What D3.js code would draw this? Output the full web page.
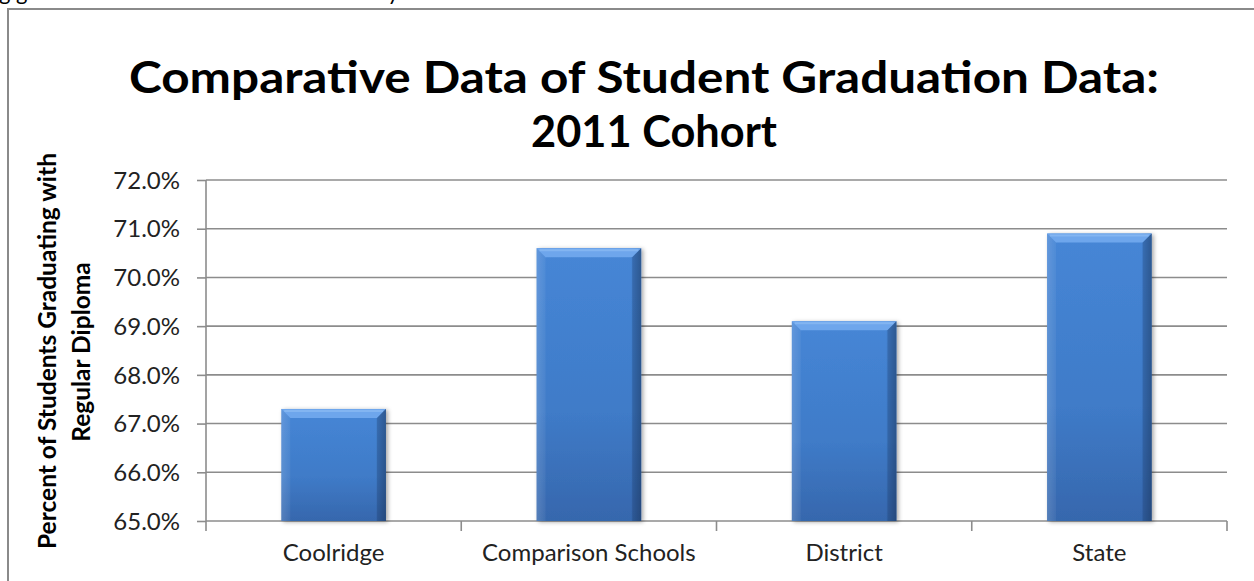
<!DOCTYPE html>
<html>
<head>
<meta charset="utf-8">
<script src="https://cdn.jsdelivr.net/npm/d3@7"></script>
<style>
  html, body { margin: 0; padding: 0; background: #fff; overflow: hidden; }
  svg { display: block; }
  text { font-family: Lato, "Open Sans", sans-serif; }
</style>
</head>
<body>
<svg id="chart" width="1254" height="581"></svg>
<script>
// Graduation rates, 2011 cohort
const categories = ["Coolridge", "Comparison Schools", "District", "State"];
const rates = [67.3, 70.6, 69.1, 70.9];
const yTicks = [65, 66, 67, 68, 69, 70, 71, 72];
const titleLines = ["Comparative Data of Student Graduation Data:", "2011 Cohort"];
const yTitleLines = ["Percent of Students Graduating with", "Regular Diploma"];
const leadText = "g graduation rates have been consistently lo";

const W = 1254, H = 581;
const plot = { left: 206, right: 1227, top: 180, bottom: 521 };

const svg = d3.select("#chart");

const defs = svg.append("defs");
const grad = defs.append("linearGradient").attr("id", "barFill")
  .attr("x1", 0).attr("y1", 0).attr("x2", 0).attr("y2", 1);
grad.append("stop").attr("offset", "0%").attr("stop-color", "#4686d6");
grad.append("stop").attr("offset", "60%").attr("stop-color", "#3f7bc8");
grad.append("stop").attr("offset", "100%").attr("stop-color", "#3667ad");

const side = defs.append("linearGradient").attr("id", "barSide")
  .attr("x1", 0).attr("y1", 0).attr("x2", 1).attr("y2", 0);
side.append("stop").attr("offset", "0%").attr("stop-color", "#ffffff").attr("stop-opacity", 0.10);
side.append("stop").attr("offset", "8%").attr("stop-color", "#ffffff").attr("stop-opacity", 0);
side.append("stop").attr("offset", "90%").attr("stop-color", "#000000").attr("stop-opacity", 0);
side.append("stop").attr("offset", "100%").attr("stop-color", "#000000").attr("stop-opacity", 0.25);

const shadow = defs.append("filter").attr("id", "barShadow")
  .attr("x", "-20%").attr("y", "-10%").attr("width", "140%").attr("height", "120%");
shadow.append("feDropShadow").attr("dx", 2).attr("dy", 1).attr("stdDeviation", 2)
  .attr("flood-color", "#000").attr("flood-opacity", 0.35);

// Text above the chart frame, mostly cut off by the page top
svg.append("text").attr("x", -1).attr("y", 0)
  .attr("font-size", 22).attr("fill", "#000").text(leadText);

// Chart frame
svg.append("rect").attr("x", 8).attr("y", 9)
  .attr("width", W + 20).attr("height", H + 20)
  .attr("fill", "none").attr("stroke", "#8a8a8a").attr("stroke-width", 2);

// Scales
const x = d3.scaleBand().domain(categories)
  .range([plot.left, plot.right]).paddingInner(0.59).paddingOuter(0.295);
const y = d3.scaleLinear().domain([65, 72]).range([plot.bottom, plot.top]);

// Gridlines
svg.append("g").selectAll("line").data(yTicks.slice(1)).join("line")
  .attr("x1", plot.left).attr("x2", plot.right)
  .attr("y1", d => y(d)).attr("y2", d => y(d))
  .attr("stroke", "#8c8c8c").attr("stroke-width", 1.6);

// Y axis
const yAxis = svg.append("g").attr("transform", `translate(${plot.left},0)`)
  .call(d3.axisLeft(y).tickValues(yTicks).tickFormat(d => d3.format(".1f")(d) + "%")
    .tickSize(9).tickPadding(17));
yAxis.select(".domain").attr("stroke", "#8c8c8c").attr("stroke-width", 1.6)
  .attr("d", `M0,${plot.top}V${plot.bottom}`);
yAxis.selectAll(".tick line").attr("stroke", "#8c8c8c").attr("stroke-width", 1.6);
yAxis.selectAll(".tick text").attr("font-size", 24).attr("fill", "#222")
  .attr("font-family", "Lato, sans-serif").attr("dy", "0.34em");

// X axis with boundary ticks between categories
const xAxis = svg.append("g").attr("transform", `translate(0,${plot.bottom})`);
xAxis.append("line").attr("x1", plot.left).attr("x2", plot.right)
  .attr("stroke", "#8c8c8c").attr("stroke-width", 1.6);
const bounds = d3.range(categories.length + 1).map(i => plot.left + i * (plot.right - plot.left) / categories.length);
xAxis.selectAll("line.b").data(bounds).join("line").attr("class", "b")
  .attr("x1", d => d).attr("x2", d => d).attr("y1", 0).attr("y2", 10)
  .attr("stroke", "#8c8c8c").attr("stroke-width", 1.6);
xAxis.selectAll("text").data(categories).join("text")
  .attr("x", d => x(d) + x.bandwidth() / 2).attr("y", 40)
  .attr("text-anchor", "middle").attr("font-size", 24).attr("fill", "#222")
  .text(d => d);

// Bars with bevelled edges
const bev = 9;
const bars = svg.append("g").selectAll("g").data(categories.map((c, i) => ({ c, v: rates[i] })))
  .join("g");
bars.append("rect")
  .attr("x", d => x(d.c)).attr("y", d => y(d.v))
  .attr("width", x.bandwidth()).attr("height", d => y(65) - y(d.v))
  .attr("fill", "url(#barFill)").attr("filter", "url(#barShadow)");
bars.append("rect")
  .attr("x", d => x(d.c)).attr("y", d => y(d.v))
  .attr("width", x.bandwidth()).attr("height", d => y(65) - y(d.v))
  .attr("fill", "url(#barSide)");
// top bevel
bars.append("path").attr("d", d => {
  const x0 = x(d.c), x1 = x0 + x.bandwidth(), t = y(d.v);
  return `M${x0},${t}L${x1},${t}L${x1 - bev},${t + bev}L${x0 + bev},${t + bev}Z`;
}).attr("fill", "#6ea6ec");
bars.append("path").attr("d", d => {
  const x0 = x(d.c), x1 = x0 + x.bandwidth(), t = y(d.v);
  return `M${x0 + 3},${t + 2}L${x1 - 3},${t + 2}`;
}).attr("stroke", "#8cbcf4").attr("stroke-width", 2).attr("opacity", 0.7);
// left bevel
bars.append("path").attr("d", d => {
  const x0 = x(d.c), t = y(d.v), b = y(65);
  return `M${x0},${t}L${x0 + bev},${t + bev}L${x0 + bev},${b}L${x0},${b}Z`;
}).attr("fill", "#ffffff").attr("opacity", 0.06);
// right bevel
bars.append("path").attr("d", d => {
  const x1 = x(d.c) + x.bandwidth(), t = y(d.v), b = y(65);
  return `M${x1},${t}L${x1 - bev},${t + bev}L${x1 - bev},${b}L${x1},${b}Z`;
}).attr("fill", "#1d3f70").attr("opacity", 0.3);

// Title
const title = svg.append("g").attr("font-weight", "bold").attr("fill", "#000").attr("text-anchor", "middle");
title.append("text").attr("x", 644).attr("y", 93).attr("font-size", 44)
  .attr("textLength", 1030).attr("lengthAdjust", "spacingAndGlyphs").text(titleLines[0]);
title.append("text").attr("x", 654).attr("y", 147).attr("font-size", 44)
  .attr("textLength", 246).attr("lengthAdjust", "spacingAndGlyphs").text(titleLines[1]);

// Y axis title (two rotated lines)
const yt = svg.append("g").attr("font-weight", "bold").attr("fill", "#000").attr("text-anchor", "middle");
yt.append("text").attr("transform", "translate(56,351) rotate(-90)")
  .attr("font-size", 24.5).text(yTitleLines[0]);
yt.append("text").attr("transform", "translate(90,352) rotate(-90)")
  .attr("font-size", 24.5).text(yTitleLines[1]);
</script>
</body>
</html>
